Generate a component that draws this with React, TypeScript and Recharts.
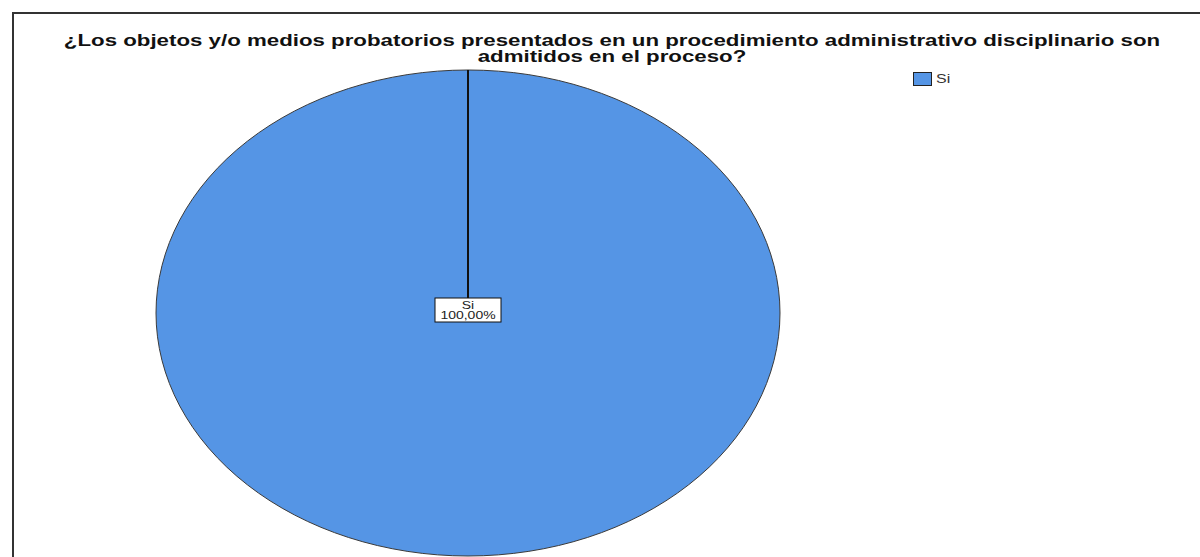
import { PieChart, Pie, Cell, Legend } from "recharts";

const categories = ["Si"];
const counts = [100];
const sliceColors = ["#5595e5"];
const titleLines = [
  "¿Los objetos y/o medios probatorios presentados en un procedimiento administrativo disciplinario son",
  "admitidos en el proceso?",
];

const data = categories.map((name, i) => ({ name, value: counts[i] }));

// the source picture is stretched sideways: pie is an ellipse, text is wide
const RY_RATIO = 243 / 312;
const TEXT_STRETCH = 1.33;
const RAD = Math.PI / 180;
const FONT = "Arial, 'Liberation Sans', sans-serif";

const EllipseSector = (props: any) => {
  const { cx, cy, outerRadius, startAngle, endAngle, fill } = props;
  const rx = outerRadius;
  const ry = outerRadius * RY_RATIO;
  const pt = (a: number) => [cx + rx * Math.cos(-a * RAD), cy + ry * Math.sin(-a * RAD)];
  const [sx, sy] = pt(startAngle);
  if (Math.abs(endAngle - startAngle) >= 359.99) {
    return (
      <g>
        <ellipse cx={cx} cy={cy} rx={rx} ry={ry} fill={fill} stroke="#3a3a3a" strokeWidth={1} />
        <line x1={cx} y1={cy} x2={sx} y2={sy} stroke="#111" strokeWidth={2} />
      </g>
    );
  }
  const [ex, ey] = pt(endAngle);
  const large = Math.abs(endAngle - startAngle) > 180 ? 1 : 0;
  const sweep = startAngle > endAngle ? 1 : 0;
  return (
    <path
      d={`M${cx},${cy} L${sx},${sy} A${rx},${ry} 0 ${large} ${sweep} ${ex},${ey} Z`}
      fill={fill}
      stroke="#111"
      strokeWidth={1}
    />
  );
};

const renderLabel = (props: any) => {
  const { cx, cy, name, percent } = props;
  const pct = (percent * 100).toFixed(2).replace(".", ",") + "%";
  return (
    <g>
      <rect x={cx - 33} y={cy - 15} width={66} height={24} fill="#fff" stroke="#111" strokeWidth={1} />
      <text
        transform={`translate(${cx},${cy - 4}) scale(${TEXT_STRETCH},1)`}
        textAnchor="middle"
        fontSize={10.5}
        fill="#222"
        fontFamily={FONT}
      >
        {name}
      </text>
      <text
        transform={`translate(${cx},${cy + 6}) scale(${TEXT_STRETCH},1)`}
        textAnchor="middle"
        fontSize={10.5}
        fill="#222"
        fontFamily={FONT}
      >
        {pct}
      </text>
    </g>
  );
};

const renderLegend = (props: any) => {
  const { payload } = props;
  return (
    <div>
      {(payload || []).map((entry: any, i: number) => (
        <div key={i} style={{ display: "flex", alignItems: "center", fontSize: 12, color: "#333", fontFamily: FONT }}>
          <span
            style={{
              display: "inline-block",
              boxSizing: "border-box",
              width: 19,
              height: 14,
              background: entry.color,
              border: "1px solid #222",
              marginRight: 4,
            }}
          />
          <span style={{ display: "inline-block", transform: `scaleX(${TEXT_STRETCH})`, transformOrigin: "left center" }}>
            {entry.value}
          </span>
        </div>
      ))}
    </div>
  );
};

export default function App() {
  return (
    <div
      style={{
        position: "absolute",
        left: 0,
        top: 0,
        width: 1200,
        height: 557,
        background: "#fff",
        overflow: "hidden",
        fontFamily: FONT,
      }}
    >
      <div
        style={{
          position: "absolute",
          left: 12,
          top: 12,
          width: 1300,
          height: 600,
          borderTop: "2px solid #333",
          borderLeft: "2px solid #333",
        }}
      />
      <div
        style={{
          position: "absolute",
          left: 0,
          top: 33,
          width: 1224,
          textAlign: "center",
          fontWeight: "bold",
          fontSize: 17,
          lineHeight: "16px",
          color: "#111",
          transform: `scaleX(${1.31})`,
          transformOrigin: "612px 0",
        }}
      >
        {titleLines.map((t, i) => (
          <div key={i}>{t}</div>
        ))}
      </div>
      <div style={{ position: "absolute", left: 0, top: 0 }}>
        <PieChart width={1200} height={557} margin={{ top: 0, right: 0, bottom: 0, left: 0 }}>
          <Pie
            data={data}
            dataKey="value"
            nameKey="name"
            cx={468}
            cy={313}
            outerRadius={312}
            startAngle={90}
            endAngle={-270}
            shape={EllipseSector}
            label={renderLabel}
            labelLine={false}
            isAnimationActive={false}
          >
            {data.map((_, i) => (
              <Cell key={i} fill={sliceColors[i]} />
            ))}
          </Pie>
          <Legend
            content={renderLegend}
            layout="vertical"
            wrapperStyle={{ position: "absolute", left: 913, top: 72, width: 60 }}
          />
        </PieChart>
      </div>
    </div>
  );
}
